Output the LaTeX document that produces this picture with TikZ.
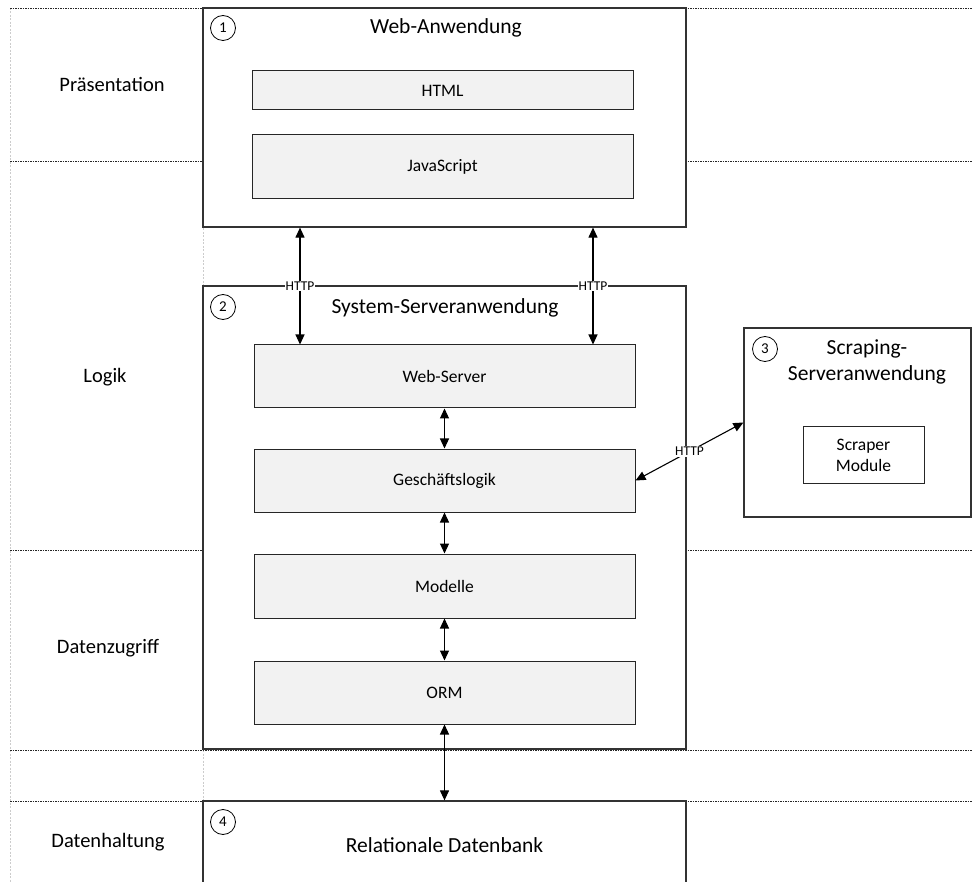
\documentclass[tikz,border=0pt]{standalone}
\usepackage{fontspec}
\setmainfont{Carlito}
\usetikzlibrary{arrows.meta}
\begin{document}
\begin{tikzpicture}[x=1pt,y=-1pt,
  lane/.style={draw=black!85, line width=0.8pt, dash pattern=on 1.5pt off 1pt},
  colline/.style={draw=black!20, line width=0.6pt, dash pattern=on 2pt off 1.5pt},
  container/.style={draw=black!80, line width=1.2pt, fill=white, inner sep=0pt},
  layerbox/.style={draw=black!85, line width=1pt, fill=black!5, inner sep=0pt,
    minimum width=381pt, font=\fontsize{17.5}{21}\selectfont},
  titletext/.style={font=\fontsize{21.5}{26}\selectfont, align=center},
  lanelabel/.style={font=\fontsize{20.5}{24}\selectfont},
  num/.style={circle, draw=black, line width=0.8pt, minimum size=25pt, inner sep=0pt,
    font=\fontsize{15}{17}\selectfont},
  proto/.style={fill=white, inner sep=1pt, font=\fontsize{13.5}{15}\selectfont},
  biarrow/.style={{Triangle[length=10pt,width=9pt]}-{Triangle[length=10pt,width=9pt]}, line width=1.1pt, draw=black}
]
\useasboundingbox (0,0) rectangle (972,882);
\clip (0,0) rectangle (972,882);

% swimlane grid
\draw[colline] (10,8) -- (10,882);
\draw[colline] (203,8) -- (203,882);
\foreach \yy in {8,161,550,750,801}
  \draw[lane] (10,\yy) -- (972,\yy);

% lane labels
\node[lanelabel] (lp) at (112,84) {Präsentation};
\node[lanelabel] (ll) at (105,377) {Logik};
\node[lanelabel] (ld) at (108,648) {Datenzugriff};
\node[lanelabel] (lh) at (108,842) {Datenhaltung};

% 1: web application
\node[container, minimum width=483pt, minimum height=219pt] (wa) at (444.5,117.5) {};
\node[num] (n1) at (223,28) {1};
\node[titletext] (t1) at (446,28) {Web-Anwendung};
\node[layerbox, minimum height=39pt] (html) at (442.5,90.5) {HTML};
\node[layerbox, minimum height=64pt] (js) at (442.5,167) {JavaScript};

% 2: system server application
\node[container, minimum width=483pt, minimum height=463pt] (ssa) at (444.5,517.5) {};
\node[num] (n2) at (223,307) {2};
\node[titletext] (t2) at (445,308) {System-Serveranwendung};
\node[layerbox, minimum height=63pt] (ws) at (444.5,376.5) {Web-Server};
\node[layerbox, minimum height=63pt] (gl) at (444.5,480.5) {Geschäftslogik};
\node[layerbox, minimum height=64pt] (mo) at (444.5,586) {Modelle};
\node[layerbox, minimum height=63pt] (orm) at (444.5,692.5) {ORM};

% 3: scraping server application
\node[container, minimum width=227pt, minimum height=189pt] (sca) at (857.5,422.5) {};
\node[num] (n3) at (765,349) {3};
\node[titletext] (t3) at (867,362) {Scraping-\\Serveranwendung};
\node[draw=black!85, line width=1pt, fill=white, minimum width=121pt, minimum height=56pt,
  align=center, inner sep=0pt, font=\fontsize{17.5}{21}\selectfont] (sm) at (863.5,455) {Scraper\\Module};

% 4: relational database
\node[container, minimum width=483pt, minimum height=120pt] (db) at (444.5,861) {};
\node[num] (n4) at (223,822) {4};
\node[titletext] (t4) at (444.5,845) {Relationale Datenbank};

% connectors
\coordinate (h1) at (300,0);
\coordinate (h2) at (593,0);
\draw[biarrow] (wa.south -| h1) -- (ws.north -| h1) node[proto, pos=0.5] {HTTP};
\draw[biarrow] (wa.south -| h2) -- (ws.north -| h2) node[proto, pos=0.5] {HTTP};
\draw[biarrow] (ws) -- (gl);
\draw[biarrow] (gl) -- (mo);
\draw[biarrow] (mo) -- (orm);
\draw[biarrow] (orm.south) -- (db.north);
\draw[biarrow] (gl.east) -- (sca.west) node[proto, midway] {HTTP};
\end{tikzpicture}
\end{document}
